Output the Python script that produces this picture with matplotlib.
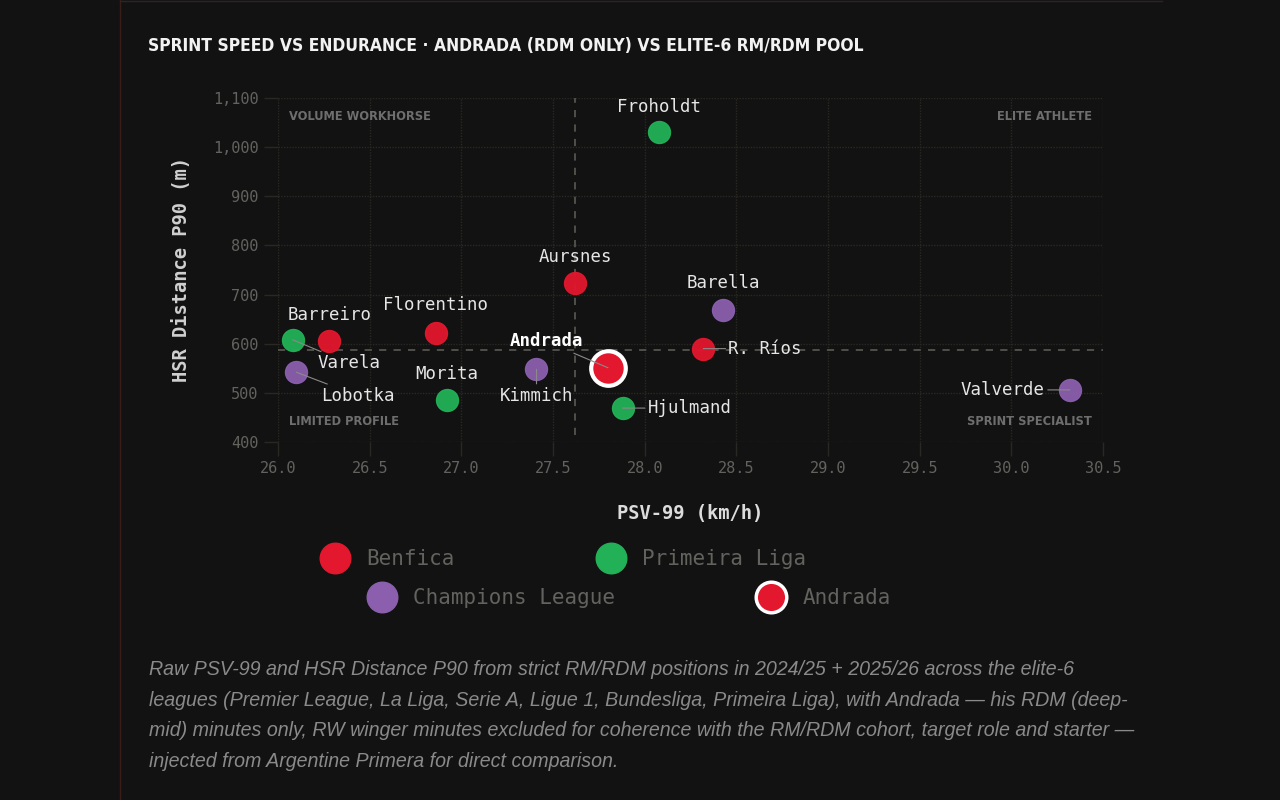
import matplotlib.pyplot as plt
from matplotlib.lines import Line2D
from matplotlib.ticker import FuncFormatter

# Players: name, PSV-99 (km/h), HSR distance P90 (m), group
players = ["Froholdt", "Aursnes", "Barella", "Florentino", "Barreiro", "Varela",
           "Lobotka", "R. Ríos", "Kimmich", "Morita", "Hjulmand", "Valverde"]
psv99 = [28.08, 27.62, 28.43, 26.86, 26.28, 26.08, 26.10, 28.32, 27.41, 26.92, 27.88, 30.32]
hsr_p90 = [1031, 723, 669, 622, 605, 608, 542, 590, 548, 485, 469, 506]
groups = ["Primeira Liga", "Benfica", "Champions League", "Benfica", "Benfica",
          "Primeira Liga", "Champions League", "Benfica", "Champions League",
          "Primeira Liga", "Primeira Liga", "Champions League"]

andrada_name = "Andrada"
andrada_psv99 = 27.80
andrada_hsr = 551

median_psv99 = 27.62
median_hsr = 588

x_ticks = [26.0, 26.5, 27.0, 27.5, 28.0, 28.5, 29.0, 29.5, 30.0, 30.5]
y_ticks = [400, 500, 600, 700, 800, 900, 1000, 1100]

colors = {"Benfica": "#e3172d", "Primeira Liga": "#22b157", "Champions League": "#8b5fae"}

# label offsets in points (dx, dy), alignment, leader line
label_pos = {
    "Froholdt": (0, 18, "center", False),
    "Aursnes": (0, 19, "center", False),
    "Barella": (0, 19, "center", False),
    "Florentino": (0, 20, "center", False),
    "Barreiro": (0, 19, "center", False),
    "Varela": (18, -17, "left", True),
    "Lobotka": (18, -17, "left", True),
    "R. Ríos": (18, 0, "left", True),
    "Kimmich": (0, -19, "center", True),
    "Morita": (0, 19, "center", False),
    "Hjulmand": (18, 0, "left", True),
    "Valverde": (-18, 0, "right", True),
}

BG = "#121212"
GRID = "#2a2822"
MONO = "DejaVu Sans Mono"
COND = "DejaVu Sans"

fig = plt.figure(figsize=(12.8, 8), dpi=100, facecolor=BG)
fig.add_artist(Line2D([120 / 1280, 120 / 1280], [0, 1], color="#3a1c1a", lw=1))
fig.add_artist(Line2D([120 / 1280, 1162 / 1280], [0.999, 0.999], color="#2e2424", lw=1))

ax = fig.add_axes([278 / 1280, 1 - 442 / 800, (1103 - 278) / 1280, (442 - 98) / 800])
ax.set_facecolor(BG)
ax.set_xlim(26.0, 30.5)
ax.set_ylim(400, 1100)

ax.set_xticks(x_ticks)
ax.set_yticks(y_ticks)
ax.xaxis.set_major_formatter(FuncFormatter(lambda v, p: f"{v:.1f}"))
ax.yaxis.set_major_formatter(FuncFormatter(lambda v, p: f"{v:,.0f}"))
ax.tick_params(colors=GRID, labelcolor="#62625e", length=10, width=1, pad=4, labelsize=11)
for lab in ax.get_xticklabels() + ax.get_yticklabels():
    lab.set_family(MONO)
ax.grid(True, color=GRID, lw=1, ls=(0, (1, 1)))
ax.set_axisbelow(True)
for s in ax.spines.values():
    s.set_visible(False)

# median reference lines
ax.axvline(median_psv99, ymin=0.02, ymax=1, color="#555550", lw=1.3, ls=(0, (4, 4)), zorder=1)
ax.axhline(median_hsr, xmin=0, xmax=1, color="#555550", lw=1.3, ls=(0, (4, 4)), zorder=1)

# quadrant labels
qkw = dict(transform=ax.transAxes, color="#6e6e6e", fontsize=9.2, fontweight="bold",
           family=COND, fontstretch="condensed")
ax.text(0.013, 0.945, "VOLUME WORKHORSE", ha="left", va="center", **qkw)
ax.text(0.987, 0.945, "ELITE ATHLETE", ha="right", va="center", **qkw)
ax.text(0.013, 0.06, "LIMITED PROFILE", ha="left", va="center", **qkw)
ax.text(0.987, 0.06, "SPRINT SPECIALIST", ha="right", va="center", **qkw)

# pool scatter
for name, x, y, g in zip(players, psv99, hsr_p90, groups):
    ax.scatter(x, y, s=250, color=colors[g], edgecolor=colors[g], lw=1, alpha=0.95, zorder=3)
    dx, dy, ha, leader = label_pos[name]
    ax.annotate(name, (x, y), xytext=(dx, dy), textcoords="offset points",
                ha=ha, va="center", color="#e6e6e6", fontsize=12.5, family=MONO, zorder=4,
                arrowprops=dict(arrowstyle="-", color="#8a8a8a", lw=0.8, shrinkA=0, shrinkB=0)
                if leader else None)

# Andrada
ax.scatter(andrada_psv99, andrada_hsr, s=620, color="#e3172d", edgecolor="white", lw=3, zorder=5)
ax.annotate(andrada_name, (andrada_psv99, andrada_hsr), xytext=(-18, 19), textcoords="offset points",
            ha="right", va="center", color="white", fontsize=12.5, fontweight="bold", family=MONO,
            zorder=6, arrowprops=dict(arrowstyle="-", color="#8a8a8a", lw=0.8, shrinkA=0, shrinkB=0))

ax.set_xlabel("PSV-99 (km/h)", color="#dcdcdc", fontsize=13.5, family=MONO, fontweight="bold", labelpad=20)
ax.set_ylabel("HSR Distance P90 (m)", color="#d0d0d0", fontsize=13.5, family=MONO, fontweight="bold", labelpad=16)

fig.text(148 / 1280, 1 - 46 / 800,
         "SPRINT SPEED VS ENDURANCE · ANDRADA (RDM ONLY) VS ELITE-6 RM/RDM POOL",
         ha="left", va="center", color="#f2f2f2", fontsize=12.5, fontweight="bold",
         family=COND, fontstretch="condensed")

# legend, two rows
def handle(label, face, edge, lw):
    return Line2D([], [], marker="o", ls="none", markersize=22, markerfacecolor=face,
                  markeredgecolor=edge, markeredgewidth=lw, label=label)

lkw = dict(frameon=False, ncol=2, loc="center", handletextpad=0.9, columnspacing=6.9,
           prop={"family": MONO, "size": 15}, labelcolor="#62625e", handlelength=1.2)
fig.legend(handles=[handle("Benfica", colors["Benfica"], colors["Benfica"], 1),
                    handle("Primeira Liga", colors["Primeira Liga"], colors["Primeira Liga"], 1)],
           bbox_to_anchor=(564 / 1280, 1 - 559 / 800), **lkw)
fig.legend(handles=[handle("Champions League", colors["Champions League"], colors["Champions League"], 1),
                    handle("Andrada", "#e3172d", "white", 2.5)],
           bbox_to_anchor=(630 / 1280, 1 - 598 / 800), **lkw)

caption = ("Raw PSV-99 and HSR Distance P90 from strict RM/RDM positions in 2024/25 + 2025/26 across the elite-6\n"
           "leagues (Premier League, La Liga, Serie A, Ligue 1, Bundesliga, Primeira Liga), with Andrada \u2014 his RDM (deep-\n"
           "mid) minutes only, RW winger minutes excluded for coherence with the RM/RDM cohort, target role and starter \u2014\n"
           "injected from Argentine Primera for direct comparison.")
fig.text(149 / 1280, 1 - 660 / 800, caption, ha="left", va="top", color="#8a8a8a",
         fontsize=14.1, style="italic", family="Liberation Sans", linespacing=1.78)

fig.savefig("out.png", dpi=100, facecolor=fig.get_facecolor())
